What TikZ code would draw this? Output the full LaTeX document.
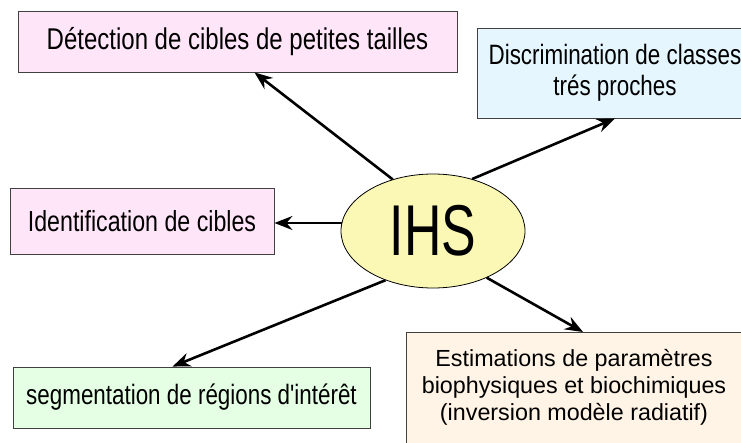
\documentclass[tikz,border=0pt]{standalone}
\usepackage{fontspec}
\setmainfont{Liberation Sans}
\newfontfamily\narrowfont{Liberation Sans}[FakeStretch=0.8,Ligatures=TeXOff]
\newfontfamily\ihsfont{Liberation Sans}[FakeStretch=0.72]
\usetikzlibrary{arrows.meta,shapes.geometric}
\definecolor{boxpink}{RGB}{255,229,248}
\definecolor{boxblue}{RGB}{230,246,255}
\definecolor{boxgreen}{RGB}{229,255,229}
\definecolor{boxorange}{RGB}{255,244,230}
\definecolor{ihsyellow}{RGB}{250,248,180}
\begin{document}
\begin{tikzpicture}[x=1pt,y=-1pt,
  box/.style={draw=black!75, line width=0.9pt, inner sep=0pt, align=center},
  arr/.style={line width=2.6pt, -{Stealth[length=18pt,width=14pt,inset=6pt]}}]
\useasboundingbox (0,0) rectangle (741,442);
\clip (0,0) rectangle (741,442);

\node[box, fill=boxpink, minimum width=439pt, minimum height=61pt,
      font=\narrowfont\fontsize{30}{36}\selectfont] (det) at (237.5,41.5)
      {Détection de cibles de petites tailles};
\node[box, fill=boxblue, minimum width=276pt, minimum height=90pt,
      font=\narrowfont\fontsize{28}{31}\selectfont] (disc) at (615,73)
      {Discrimination de classes\\trés proches};
\node[box, fill=boxpink, minimum width=264pt, minimum height=66pt,
      font=\narrowfont\fontsize{29}{34}\selectfont] (ident) at (142,221)
      {Identification de cibles};
\node[box, fill=boxgreen, minimum width=357pt, minimum height=61pt,
      font=\narrowfont\fontsize{28}{34}\selectfont] (seg) at (191.5,397.5)
      {segmentation de régions d'intérêt};
\node[box, fill=boxorange, minimum width=336pt, anchor=north, inner ysep=17pt,
      text depth=70pt, font=\fontsize{23.3}{27}\selectfont] (est) at (574,332)
      {Estimations de paramètres\\biophysiques et biochimiques\\(inversion modèle radiatif)};

\node[ellipse, draw, line width=0.8pt, fill=ihsyellow, minimum width=184pt,
      minimum height=114pt, inner sep=0pt,
      font=\ihsfont\fontsize{72}{80}\selectfont] (ihs) at (433,231) {IHS};

\draw[arr] (ihs.128) -- ([xshift=17pt]det.south);
\draw[arr] (ihs.53) -- (disc.south);
\draw[arr] (ihs.175) -- (ihs.175 -| ident.east);
\draw[arr] (ihs.226) -- ([xshift=-19pt]seg.north);
\draw[arr] (ihs.-41) -- ([xshift=9pt]est.north);
\end{tikzpicture}
\end{document}
